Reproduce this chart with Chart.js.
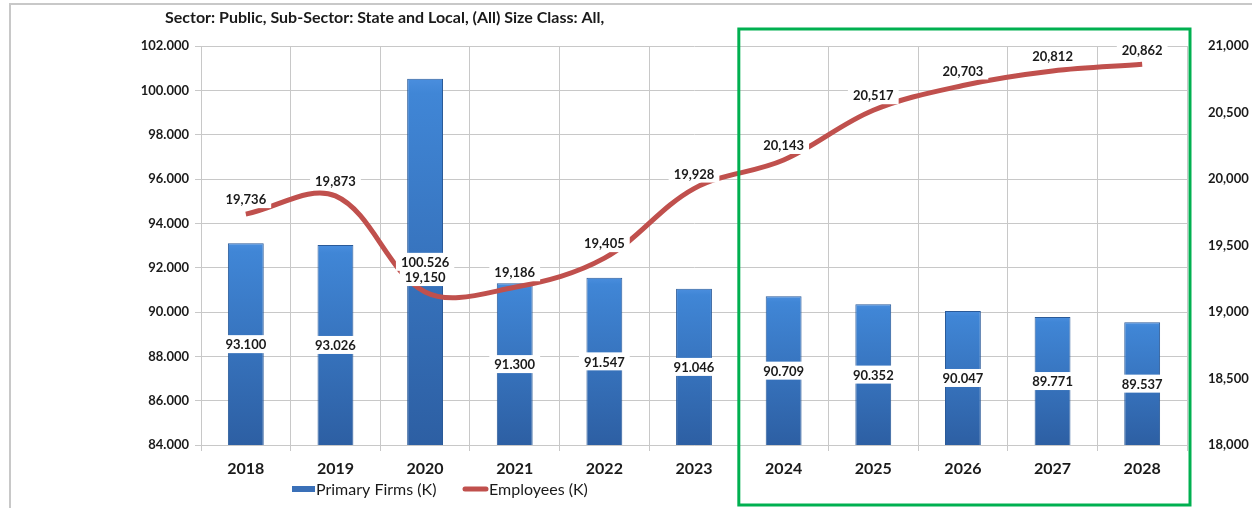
<!DOCTYPE html>
<html>
<head>
<meta charset="utf-8">
<script src="https://cdn.jsdelivr.net/npm/chart.js@4.4.0/dist/chart.umd.min.js"></script>
<style>
  html, body { margin: 0; padding: 0; background: #fff; }
  #wrap { width: 1252px; height: 508px; position: relative; }
</style>
</head>
<body>
<div id="wrap"><canvas id="myChart" width="1252" height="508"></canvas></div>
<script>
var years = ["2018", "2019", "2020", "2021", "2022", "2023", "2024", "2025", "2026", "2027", "2028"];
var firms = [93.1, 93.026, 100.526, 91.3, 91.547, 91.046, 90.709, 90.352, 90.047, 89.771, 89.537];
var employees = [19736, 19873, 19150, 19186, 19405, 19928, 20143, 20517, 20703, 20812, 20862];
var leftTicks = [84, 86, 88, 90, 92, 94, 96, 98, 100, 102];
var rightTicks = [18000, 18500, 19000, 19500, 20000, 20500, 21000];

var titleText = "Sector: Public, Sub-Sector: State and Local, (All) Size Class: All,";
var fontFam = "Lato, 'Open Sans', sans-serif";

function fmtFirms(v) { return v.toFixed(3); }
function fmtEmp(v) { return v.toLocaleString("en-US"); }

// labels with a white box behind them
function labelBox(ctx, text, x, y) {
  ctx.font = "bold 13px " + fontFam;
  var w = ctx.measureText(text).width + 10;
  ctx.fillStyle = "#fff";
  ctx.fillRect(x - w / 2, y - 9, w, 18);
  ctx.fillStyle = "#1a1a1a";
  ctx.textAlign = "center";
  ctx.textBaseline = "middle";
  ctx.fillText(text, x, y + 1);
}

var extras = {
  id: "extras",
  beforeDraw: function (chart) {
    var ctx = chart.ctx;
    ctx.save();
    ctx.strokeStyle = "#c8c8c8";
    ctx.lineWidth = 2;
    ctx.strokeRect(10, 4, 1250, 520);
    ctx.restore();
  },
  afterDatasetsDraw: function (chart) {
    var ctx = chart.ctx;
    var y = chart.scales.y;
    var base = y.getPixelForValue(y.min);
    ctx.save();
    chart.getDatasetMeta(0).data.forEach(function (bar, i) {
      var top = y.getPixelForValue(firms[i]);
      labelBox(ctx, fmtFirms(firms[i]), bar.x, (top + base) / 2);
    });
    chart.getDatasetMeta(1).data.forEach(function (pt, i) {
      labelBox(ctx, fmtEmp(employees[i]), pt.x, pt.y - 15);
    });
    ctx.restore();
  },
  afterDraw: function (chart) {
    var ctx = chart.ctx;
    var area = chart.chartArea;
    var x = chart.scales.x;
    ctx.save();
    // title
    ctx.font = "bold 16px " + fontFam;
    ctx.fillStyle = "#1a1a1a";
    ctx.textAlign = "left";
    ctx.textBaseline = "middle";
    ctx.fillText(titleText, 165, 18);
    // green highlight box
    var left = (x.getPixelForValue(5) + x.getPixelForValue(6)) / 2;
    ctx.strokeStyle = "#00b050";
    ctx.lineWidth = 3;
    ctx.strokeRect(left, 29, area.right + 3 - left, 476);
    // legend
    ctx.font = "16px " + fontFam;
    ctx.fillStyle = "#3a70b8";
    ctx.fillRect(292, 486, 23, 6);
    ctx.fillStyle = "#1a1a1a";
    ctx.textBaseline = "middle";
    ctx.fillText("Primary Firms (K)", 316, 490);
    ctx.strokeStyle = "#c0504d";
    ctx.lineWidth = 5;
    ctx.lineCap = "round";
    ctx.beginPath();
    ctx.moveTo(465, 489);
    ctx.lineTo(486, 489);
    ctx.stroke();
    ctx.fillText("Employees (K)", 489, 490);
    ctx.restore();
  }
};

var ctx = document.getElementById("myChart").getContext("2d");

var data = {
  labels: years,
  datasets: [
    {
      type: "bar",
      label: "Primary Firms (K)",
      data: firms,
      yAxisID: "y",
      order: 2,
      barPercentage: 0.4,
      categoryPercentage: 1,
      borderWidth: 1,
      borderColor: "#2a5a98",
      borderSkipped: "bottom",
      backgroundColor: function (c) {
        var a = c.chart.chartArea;
        if (!a || c.type !== "data") return "#3a70b8";
        var ys = c.chart.scales.y;
        var top = ys.getPixelForValue(firms[c.dataIndex]);
        var g = c.chart.ctx.createLinearGradient(0, top, 0, a.bottom);
        g.addColorStop(0, "#4a8ede");
        g.addColorStop(0.04, "#4086d6");
        g.addColorStop(1, "#2d5fa3");
        return g;
      }
    },
    {
      type: "line",
      label: "Employees (K)",
      data: employees,
      yAxisID: "y1",
      order: 1,
      borderColor: "#c0504d",
      borderWidth: 5,
      pointRadius: 0,
      tension: 0.35,
      fill: false
    }
  ]
};

var options = {
  responsive: false,
  animation: false,
  layout: { padding: { top: 46, left: 0, right: 0, bottom: 0 } },
  plugins: { legend: { display: false }, tooltip: { enabled: false } },
  scales: {
    x: {
      offset: true,
      grid: { offset: true, color: "#c8c8c8", tickLength: 6 },
      border: { color: "#c8c8c8" },
      ticks: { color: "#1a1a1a", padding: 8, font: { family: fontFam, size: 16, weight: "bold" } },
      afterFit: function (s) { s.height = 63; }
    },
    y: {
      position: "left",
      min: 84,
      max: 102,
      afterBuildTicks: function (s) { s.ticks = leftTicks.map(function (v) { return { value: v }; }); },
      grid: { color: "#c8c8c8", tickLength: 6 },
      border: { color: "#c8c8c8" },
      ticks: {
        color: "#1a1a1a",
        padding: 6,
        font: { family: fontFam, size: 13, weight: "bold" },
        callback: function (v) { return fmtFirms(v); }
      },
      afterFit: function (s) { s.width = 201; }
    },
    y1: {
      position: "right",
      min: 18000,
      max: 21000,
      afterBuildTicks: function (s) { s.ticks = rightTicks.map(function (v) { return { value: v }; }); },
      grid: { display: false },
      border: { display: false },
      ticks: {
        color: "#1a1a1a",
        padding: 13,
        font: { family: fontFam, size: 13, weight: "bold" },
        callback: function (v) { return fmtEmp(v); }
      },
      afterFit: function (s) { s.width = 65; }
    }
  }
};

new Chart(ctx, {
  type: "bar",
  data: data,
  options: options,
  plugins: [extras]
});
</script>
</body>
</html>
